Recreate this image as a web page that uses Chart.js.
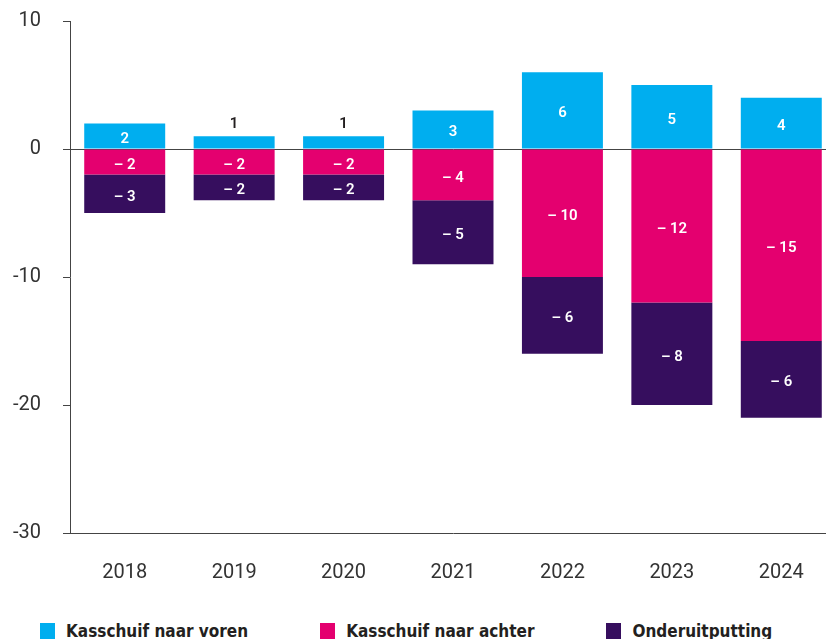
<!DOCTYPE html>
<html>
<head>
<meta charset="utf-8">
<script src="https://cdn.jsdelivr.net/npm/chart.js@4.4.1/dist/chart.umd.min.js"></script>
<style>
  html, body { margin: 0; padding: 0; background: #fff; overflow: hidden; }
  #wrap { position: relative; width: 836px; height: 613px; margin-top: -13px; }
  #legend {
    position: absolute; top: 622px; left: 40px;
    display: flex; gap: 72px;
    font-family: "Liberation Sans Narrow", "DejaVu Sans Condensed", sans-serif;
    font-weight: bold; font-size: 17px; line-height: 18px; color: #231f20;
  }
  #legend .item { display: flex; align-items: flex-start; }
  #legend .box { width: 15px; height: 16px; margin-right: 11px; margin-top: 1px; }
</style>
</head>
<body>
<div id="wrap"><canvas id="chart"></canvas></div>
<div id="legend"></div>
<script>
// jaren en bedragen (mld euro) zoals in de figuur
const years = ['2018', '2019', '2020', '2021', '2022', '2023', '2024'];
const naarVoren = [2, 1, 1, 3, 6, 5, 4];
const naarAchter = [-2, -2, -2, -4, -10, -12, -15];
const onderuitputting = [-3, -2, -2, -5, -6, -8, -6];
const seriesNames = ['Kasschuif naar voren', 'Kasschuif naar achter', 'Onderuitputting'];
const seriesColors = ['#00aeef', '#e4006f', '#360e5e'];
const yTicks = [10, 0, -10, -20, -30];

const axisColor = '#444';

// labels in (of boven) de staven
const barLabels = {
  id: 'barLabels',
  afterDatasetsDraw(chart) {
    const ctx = chart.ctx;
    ctx.save();
    ctx.font = '600 15px Roboto, sans-serif';
    ctx.textAlign = 'center';
    ctx.textBaseline = 'middle';
    chart.data.datasets.forEach((ds, i) => {
      const meta = chart.getDatasetMeta(i);
      meta.data.forEach((bar, j) => {
        const v = ds.data[j];
        const text = v < 0 ? '\u2013 ' + Math.abs(v) : String(v);
        const h = Math.abs(bar.base - bar.y);
        if (h < 20) {
          ctx.fillStyle = '#231f20';
          ctx.fillText(text, bar.x, Math.min(bar.y, bar.base) - 12);
        } else {
          ctx.fillStyle = '#fff';
          ctx.fillText(text, bar.x, (bar.y + bar.base) / 2 + 3);
        }
      });
    });
    ctx.restore();
  }
};

new Chart(document.getElementById('chart'), {
  type: 'bar',
  data: {
    labels: years,
    datasets: [naarVoren, naarAchter, onderuitputting].map((d, i) => ({
      label: seriesNames[i],
      data: d,
      backgroundColor: seriesColors[i],
      borderWidth: 0,
      barPercentage: 0.74,
      categoryPercentage: 1
    }))
  },
  options: {
    responsive: true,
    maintainAspectRatio: false,
    animation: false,
    layout: { padding: { top: 7, left: 0, right: 0, bottom: 0 } },
    plugins: {
      legend: { display: false },
      tooltip: { enabled: false }
    },
    scales: {
      x: {
        stacked: true,
        grid: { display: false },
        border: { display: true, color: axisColor, width: 1 },
        ticks: { color: '#333', font: { family: 'Roboto', size: 20 }, padding: 20 },
        afterFit(scale) { scale.height = 67; }
      },
      y: {
        stacked: true,
        min: -30,
        max: 10,
        afterBuildTicks(scale) { scale.ticks = yTicks.map(v => ({ value: v })); },
        grid: {
          drawTicks: true,
          tickLength: 7,
          tickColor: axisColor,
          color: c => (c.tick && c.tick.value === 0 ? axisColor : 'rgba(0,0,0,0)')
        },
        border: { display: true, color: axisColor, width: 1 },
        ticks: { color: '#333', font: { family: 'Roboto', size: 20 }, padding: 22 },
        afterFit(scale) { scale.width = 70; }
      }
    }
  },
  plugins: [barLabels]
});

// legenda onder de figuur
const legend = document.getElementById('legend');
seriesNames.forEach((name, i) => {
  const item = document.createElement('div');
  item.className = 'item';
  item.innerHTML = `<span class="box" style="background:${seriesColors[i]}"></span><span>${name}</span>`;
  legend.appendChild(item);
});
</script>
</body>
</html>
